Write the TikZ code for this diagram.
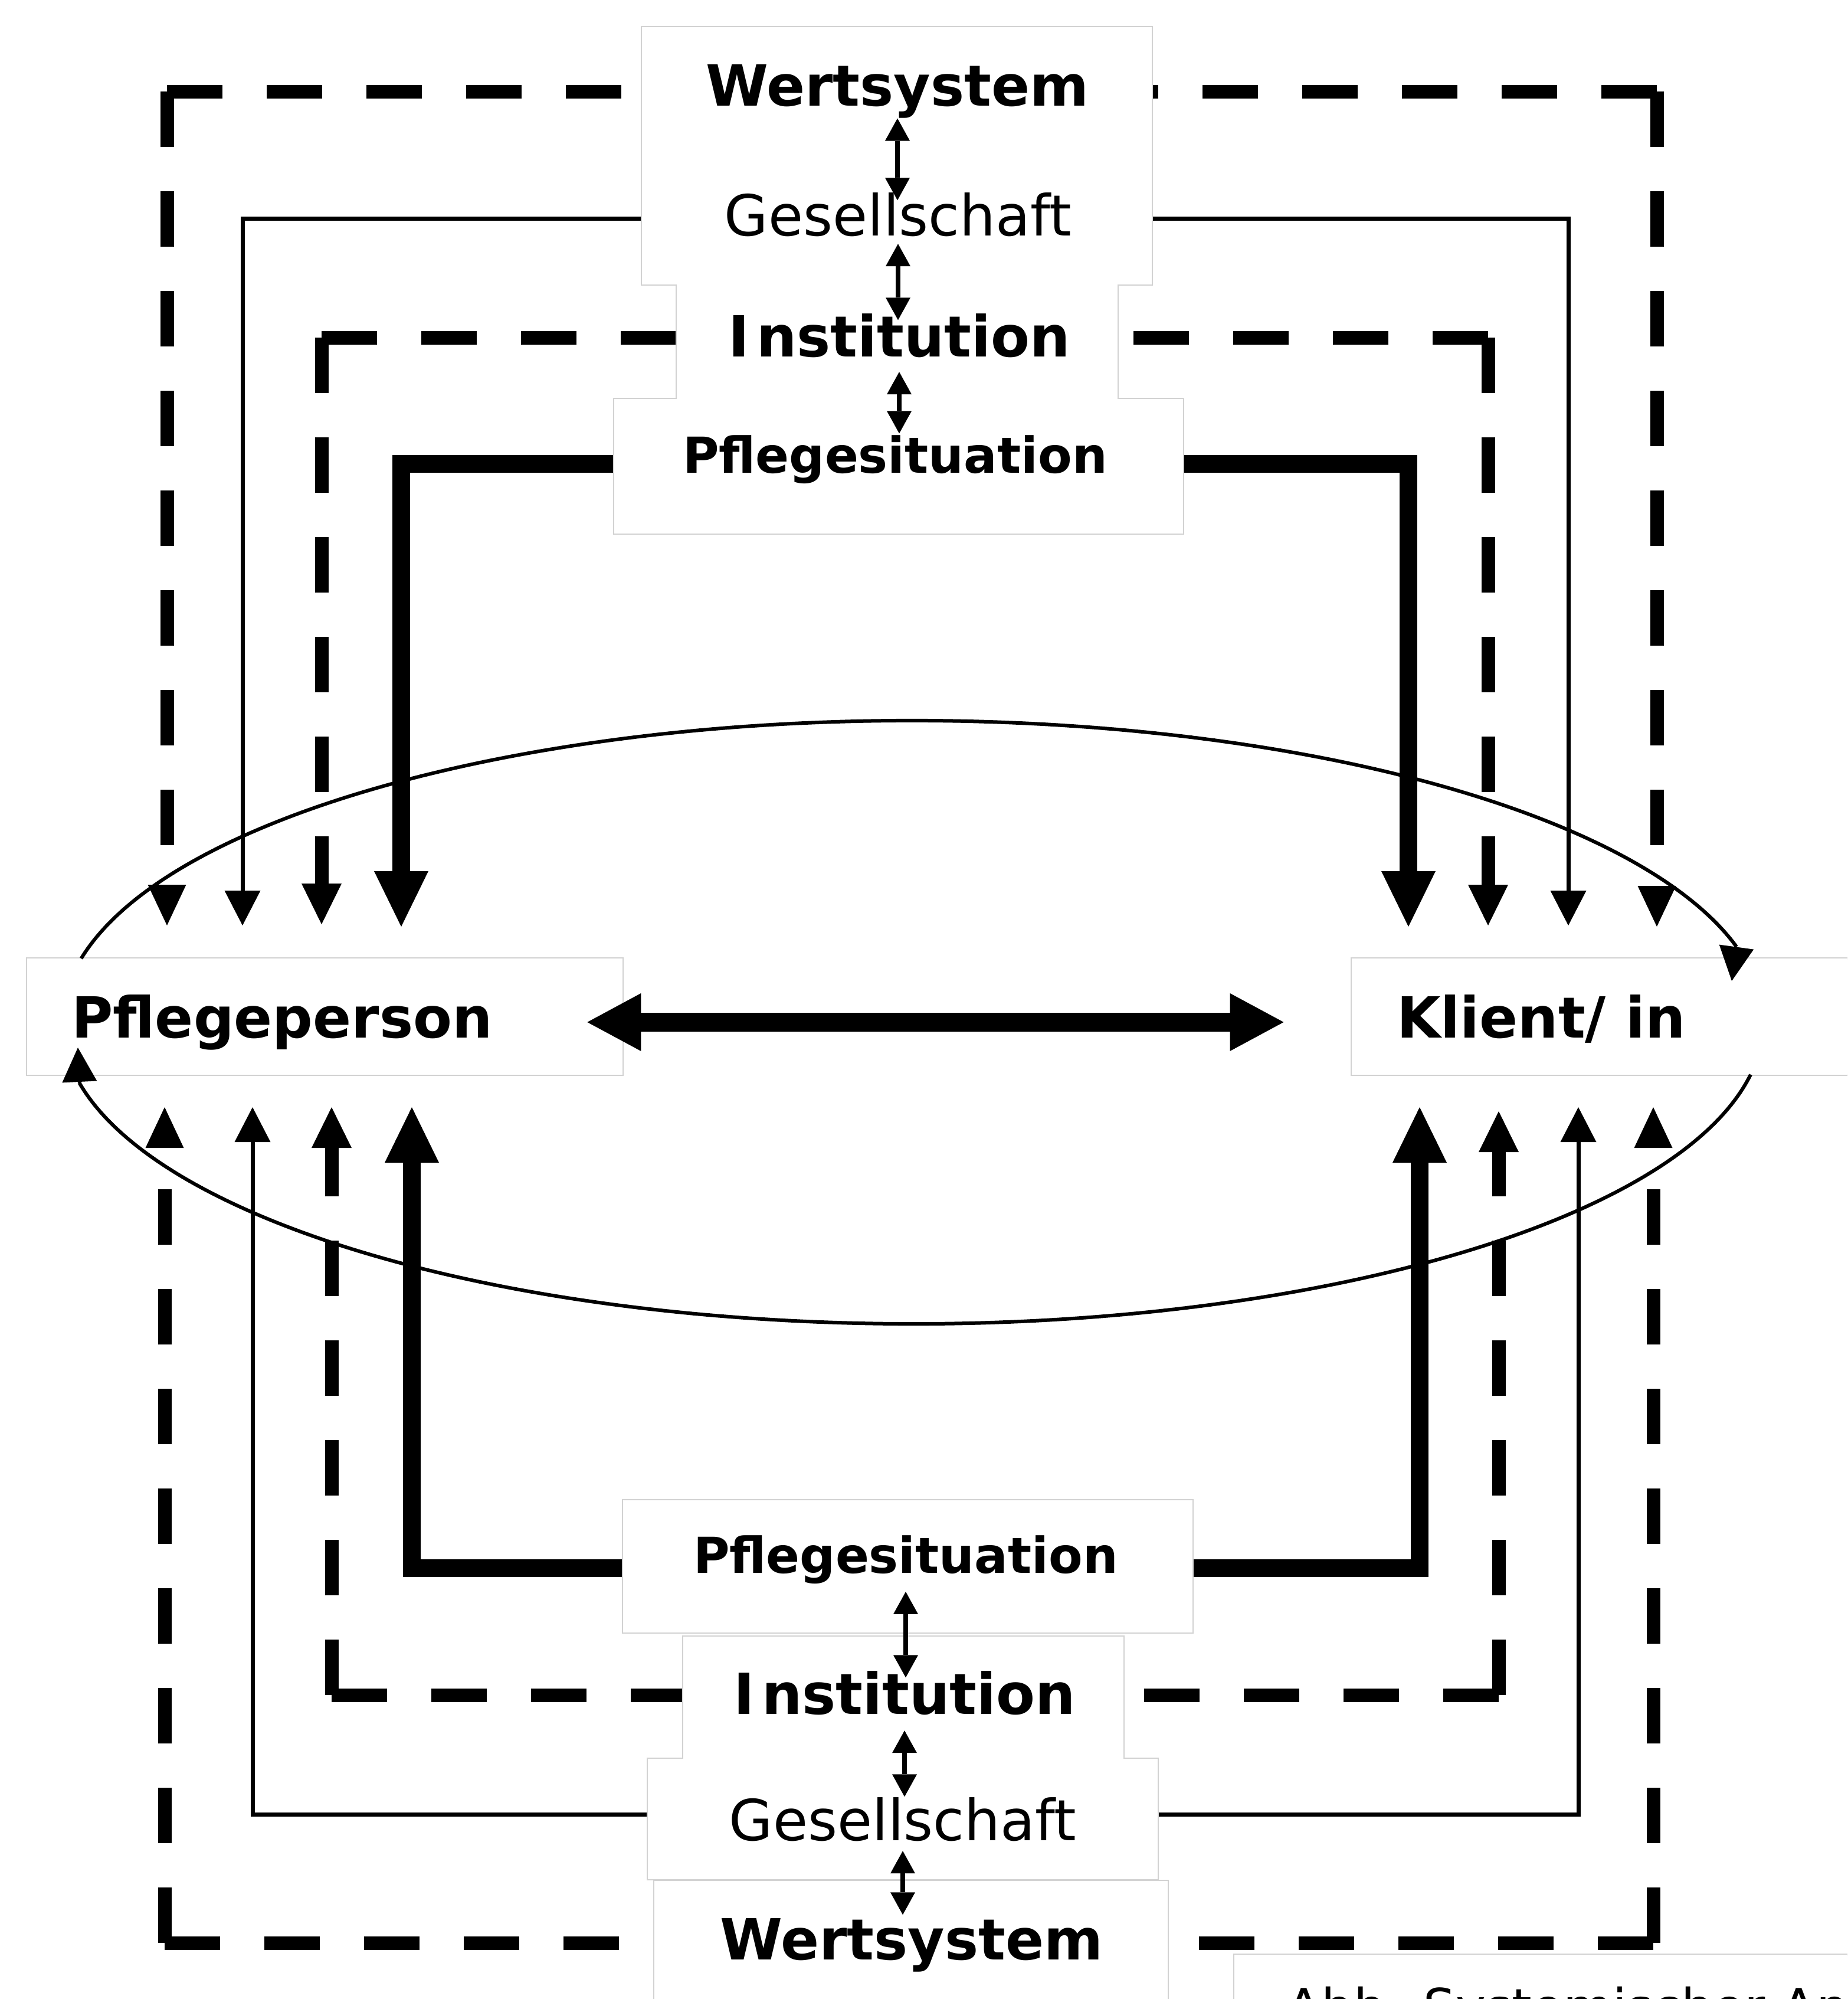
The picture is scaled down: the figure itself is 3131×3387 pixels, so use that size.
\documentclass[tikz,border=0pt]{standalone}
\usepackage{fontspec}
\setmainfont{DejaVu Sans}
\usetikzlibrary{arrows.meta}
\pgfdeclarelayer{bg}
\pgfdeclarelayer{boxes}
\pgfsetlayers{bg,boxes,main}
\begin{document}
\begin{tikzpicture}[x=0.25pt,y=-0.25pt,
  lblbold/.style={anchor=base,inner sep=0pt,font=\bfseries\fontsize{24}{28}\selectfont},
  lblreg/.style={anchor=base,inner sep=0pt,font=\fontsize{24}{28}\selectfont},
  lblsit/.style={anchor=base,inner sep=0pt,font=\bfseries\fontsize{21}{25}\selectfont},
  boxframe/.style={draw=gray!35,line width=1.2pt,fill=white},
  boxfill/.style={fill=white},
  wertline/.style={line width=5.75pt,dash pattern=on 23.5pt off 18.75pt,-{Triangle[length=17.25pt,width=16.25pt,line width=0pt]}},
  insline/.style={line width=5.75pt,dash pattern=on 23.5pt off 18.75pt,-{Triangle[length=17.25pt,width=17pt,line width=0pt]}},
  gesline/.style={line width=1.75pt,-{Triangle[length=14.75pt,width=15.25pt,line width=0pt]}},
  pflline/.style={line width=7.5pt,-{Triangle[length=23.5pt,width=23pt,line width=0pt]}},
  smallarr/.style={line width=2pt,{Triangle[length=9.5pt,width=10.5pt,line width=0pt]}-{Triangle[length=9.5pt,width=10.5pt,line width=0pt]}},
  bigarr/.style={line width=8pt,{Triangle[length=22.75pt,width=24.5pt,line width=0pt]}-{Triangle[length=22.75pt,width=24.5pt,line width=0pt]}},
  ellline/.style={line width=1.5pt},
  ellarr/.style={line width=1.5pt,-{Triangle[length=14.5pt,width=14.75pt,line width=0pt]}}
]
\useasboundingbox (0,0) rectangle (3131,3387);
\clip (0,0) rectangle (3131,3387);

% ---------- text nodes ----------
\node[lblbold] (wertT) at (1521,179) {Wertsystem};
\node[lblreg]  (gesT)  at (1522,399) {Gesellschaft};
\node[lblbold] (insT)  at (1524,604) {I\kern3pt nstitution};
\node[lblsit]  (pflT)  at (1517,801) {Pflegesituation};

\node[lblsit]  (pflB)  at (1535,2665) {Pflegesituation};
\node[lblbold] (insB)  at (1533,2904) {I\kern3pt nstitution};
\node[lblreg]  (gesB)  at (1530,3118) {Gesellschaft};
\node[lblbold] (wertB) at (1545,3320) {Wertsystem};

\node[lblbold] (pp) at (478,1758) {Pflegeperson};
\node[lblbold] (kl) at (2612,1758) {Klient/ in};

\node[anchor=base west,inner sep=0pt,font=\fontsize{21.5}{26}\selectfont] (cap) at (2180,3431) {Abb. Systemischer An};

% ---------- arrow end points and corners ----------
\coordinate (tWoL) at (283,1568);  \coordinate (kWoL) at (283,155);
\coordinate (tGeL) at (411,1568);  \coordinate (kGeL) at (411,370);
\coordinate (tInL) at (545,1566);  \coordinate (kInL) at (545,572);
\coordinate (tPfL) at (680,1570);  \coordinate (kPfL) at (680,786);
\coordinate (tPfR) at (2387,1570); \coordinate (kPfR) at (2387,786);
\coordinate (tInR) at (2522,1568); \coordinate (kInR) at (2522,572);
\coordinate (tGeR) at (2658,1568); \coordinate (kGeR) at (2658,370);
\coordinate (tWoR) at (2808,1570); \coordinate (kWoR) at (2808,155);

\coordinate (bPfL) at (698,1876);  \coordinate (mPfL) at (698,2657);
\coordinate (bInL) at (562,1876);  \coordinate (mInL) at (562,2872);
\coordinate (bGeL) at (428,1876);  \coordinate (mGeL) at (428,3074);
\coordinate (bWoL) at (279,1876);  \coordinate (mWoL) at (279,3292);
\coordinate (bPfR) at (2406,1876); \coordinate (mPfR) at (2406,2657);
\coordinate (bInR) at (2540,1883); \coordinate (mInR) at (2540,2872);
\coordinate (bGeR) at (2675,1876); \coordinate (mGeR) at (2675,3074);
\coordinate (bWoR) at (2802,1876); \coordinate (mWoR) at (2802,3292);

% ---------- connectors (under the boxes) ----------
\begin{pgfonlayer}{bg}
  \fill[white] (0,0) rectangle (3131,3387);
  % top half
  \draw[wertline] (kWoL) -- (kWoL -| wertT.west) (kWoL) -- (tWoL);
  \draw[wertline] (kWoR) -- (kWoR -| wertT.east) (kWoR) -- (tWoR);
  \draw[gesline] (gesT.west |- kGeL) -- (kGeL) -- (tGeL);
  \draw[gesline] (gesT.east |- kGeR) -- (kGeR) -- (tGeR);
  \draw[insline] (kInL) -- (kInL -| insT.west) (kInL) -- (tInL);
  \draw[insline] (kInR) -- (kInR -| insT.east) (kInR) -- (tInR);
  \draw[pflline] (pflT.west |- kPfL) -- (kPfL) -- (tPfL);
  \draw[pflline] (pflT.east |- kPfR) -- (kPfR) -- (tPfR);
  % bottom half
  \draw[pflline] (pflB.west |- mPfL) -- (mPfL) -- (bPfL);
  \draw[pflline] (pflB.east |- mPfR) -- (mPfR) -- (bPfR);
  \draw[insline] (mInL) -- (mInL -| insB.west) (mInL) -- (bInL);
  \draw[insline] (mInR) -- (mInR -| insB.east) (mInR) -- (bInR);
  \draw[gesline] (gesB.west |- mGeL) -- (mGeL) -- (bGeL);
  \draw[gesline] (gesB.east |- mGeR) -- (mGeR) -- (bGeR);
  \draw[wertline] (mWoL) -- (mWoL -| wertB.west) (mWoL) -- (bWoL);
  \draw[wertline] (mWoR) -- (mWoR -| wertB.east) (mWoR) -- (bWoR);
\end{pgfonlayer}

% ---------- white boxes ----------
\begin{pgfonlayer}{boxes}
  \clip (0,0) rectangle (3131,3387);
  \foreach \xa/\ya/\xb/\yb in {1088/46/1952/482, 1147/482/1894/676, 1041/676/2005/904,
      1056/2542/2021/2766, 1158/2773/1904/2980, 1098/2980/1962/3184, 1109/3187/1979/3430,
      46/1624/1055/1821, 2291/1624/3160/1821, 2092/3312/3160/3430}
    {\path[boxframe] (\xa,\ya) rectangle (\xb,\yb);}
  \foreach \xa/\ya/\xb/\yb in {1088/46/1952/482, 1147/482/1894/676, 1041/676/2005/904,
      1056/2542/2021/2766, 1158/2773/1904/2980, 1098/2980/1962/3184, 1109/3187/1979/3430,
      46/1624/1055/1821, 2291/1624/3160/1821, 2092/3312/3160/3430}
    {\path[boxfill] (\xa,\ya) rectangle (\xb,\yb);}
\end{pgfonlayer}

% ---------- arrows between the levels ----------
\draw[smallarr, shorten >=-3.5pt] (wertT.south) -- (wertT.south |- gesT.north);
\draw[smallarr, shorten <=3pt, shorten >=-3pt] (gesT.south) -- (gesT.south |- insT.north);
\draw[smallarr, shorten <=6pt, shorten >=0.5pt] (insT.south) -- (insT.south |- pflT.north);

\draw[smallarr, shorten <=3.25pt, shorten >=-3pt] (pflB.south) -- (pflB.south |- insB.north);
\draw[smallarr, shorten <=6.5pt] (insB.south) -- (insB.south |- gesB.north);
\draw[smallarr, shorten <=4pt, shorten >=1.25pt] (gesB.south) -- (gesB.south |- wertB.north);

% ---------- interaction arrow ----------
\draw[bigarr, shorten <=40pt, shorten >=47.75pt] (pp.east) -- (pp.east -| kl.west);

% ---------- circulating ellipse ----------
\draw[ellline] (137.6,1624) arc[start angle=167.8, end angle=14.5, x radius=360.5pt, y radius=127.75pt];
\draw[ellarr] (2943,1604) -- (2935,1662);
\draw[ellline] (2967,1820.7) arc[start angle=-10, end angle=-168.3, x radius=360.5pt, y radius=127.75pt];
\draw[ellarr] (135,1836) -- (132,1775);
\end{tikzpicture}
\end{document}
